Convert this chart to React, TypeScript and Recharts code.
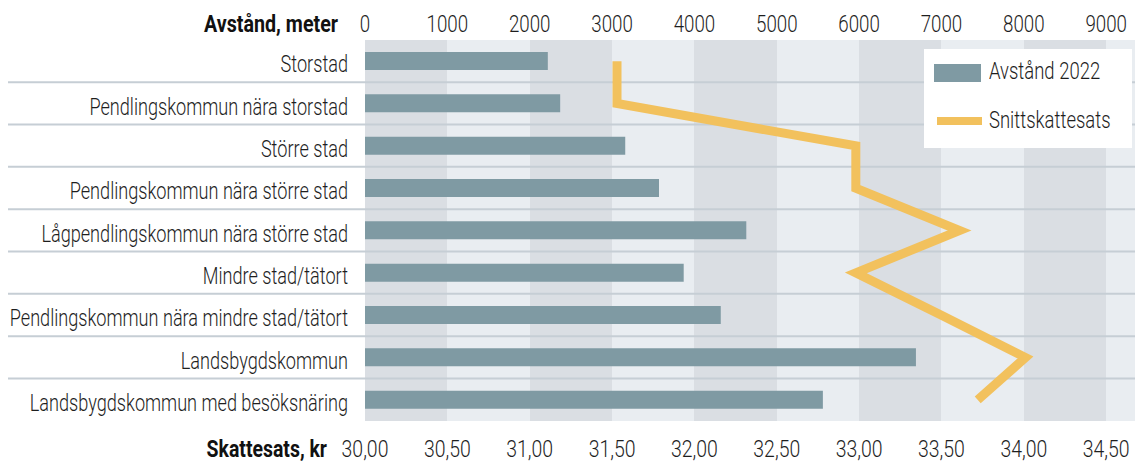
import React from "react";
import { ComposedChart, Bar, Line, XAxis, YAxis, CartesianGrid } from "recharts";

const categories = [
  "Storstad",
  "Pendlingskommun nära storstad",
  "Större stad",
  "Pendlingskommun nära större stad",
  "Lågpendlingskommun nära större stad",
  "Mindre stad/tätort",
  "Pendlingskommun nära mindre stad/tätort",
  "Landsbygdskommun",
  "Landsbygdskommun med besöksnäring",
];

// meter
const avstand2022 = [2220, 2370, 3160, 3570, 4630, 3870, 4320, 6690, 5560];
// kr
const snittskattesats = [31.53, 31.53, 32.98, 32.98, 33.61, 32.98, 33.5, 34.01, 33.72];

const distanceTicks = [0, 1000, 2000, 3000, 4000, 5000, 6000, 7000, 8000, 9000];
const taxTicks = [30, 30.5, 31, 31.5, 32, 32.5, 33, 33.5, 34, 34.5];

const seriesNames = ["Avstånd 2022", "Snittskattesats"];
const axisTitles = ["Avstånd, meter", "Skattesats, kr"];

const data = categories.map((name, i) => ({
  name,
  avstand: avstand2022[i],
  skatt: snittskattesats[i],
}));

const W = 1135;
const H = 463;
const TOP = 40;
const BOTTOM = 42;
const LEFT = 365;
const BAND = (H - TOP - BOTTOM) / categories.length;

const BAR = "#7f9aa3";
const LINE = "#f2c15d";
const TEXT = "#1e1e1e";
const FONT = "Roboto, sans-serif";

const TopTick = ({ x, payload, index }: any) => (
  <g>
    <text
      transform={`translate(${x},32) scale(0.78,1)`}
      textAnchor="middle"
      fontFamily={FONT}
      fontWeight={300}
      fontSize={24}
      fill={TEXT}
    >
      {payload.value}
    </text>
    {index === 0 && (
      <text
        transform={`translate(${x - 27},32) scale(0.82,1)`}
        textAnchor="end"
        fontFamily={FONT}
        fontWeight={700}
        fontSize={24}
        fill="#111"
      >
        {axisTitles[0]}
      </text>
    )}
  </g>
);

const BottomTick = ({ x, payload, index }: any) => (
  <g>
    <text
      transform={`translate(${x},457) scale(0.81,1)`}
      textAnchor="middle"
      fontFamily={FONT}
      fontWeight={300}
      fontSize={24}
      fill={TEXT}
    >
      {Number(payload.value).toFixed(2).replace(".", ",")}
    </text>
    {index === 0 && (
      <text
        transform={`translate(${x - 38},457) scale(0.81,1)`}
        textAnchor="end"
        fontFamily={FONT}
        fontWeight={700}
        fontSize={24}
        fill="#111"
      >
        {axisTitles[1]}
      </text>
    )}
  </g>
);

const CategoryTick = ({ y, payload }: any) => (
  <text
    transform={`translate(${LEFT - 17},${y + 11}) scale(0.755,1)`}
    textAnchor="end"
    fontFamily={FONT}
    fontWeight={300}
    fontSize={24}
    fill={TEXT}
  >
    {payload.value}
  </text>
);

// separator lines between categories, drawn under the bars
const Separator = (p: any) => {
  if (!p.index) return <g />;
  const yy = p.y + p.height / 2 - BAND / 2;
  return <line x1={8} x2={W} y1={yy} y2={yy} stroke="#c6ced5" strokeWidth={2} />;
};

const legendText: React.CSSProperties = {
  display: "inline-block",
  fontFamily: FONT,
  fontWeight: 300,
  fontSize: 24,
  color: TEXT,
  transform: "scaleX(0.77)",
  transformOrigin: "left center",
  whiteSpace: "nowrap",
};

export default function App() {
  return (
    <div style={{ position: "absolute", left: 0, top: 0, width: W, height: H, background: "#fff" }}>
      <ComposedChart
        width={W}
        height={H}
        data={data}
        layout="vertical"
        margin={{ top: 0, right: 0, bottom: 0, left: 0 }}
      >
        <CartesianGrid
          xAxisId="dist"
          horizontal={false}
          vertical={true}
          stroke="none"
          verticalFill={["#dadee3", "#e9edf1"]}
        />
        <XAxis
          xAxisId="dist"
          type="number"
          orientation="top"
          domain={[0, 9350]}
          ticks={distanceTicks}
          height={TOP}
          axisLine={false}
          tickLine={false}
          tick={<TopTick />}
          interval={0}
        />
        <XAxis
          xAxisId="tax"
          type="number"
          orientation="bottom"
          domain={[30, 34.675]}
          ticks={taxTicks}
          height={BOTTOM}
          axisLine={false}
          tickLine={false}
          tick={<BottomTick />}
          interval={0}
        />
        <YAxis
          type="category"
          dataKey="name"
          width={LEFT}
          axisLine={false}
          tickLine={false}
          tick={<CategoryTick />}
          interval={0}
        />
        <Bar
          xAxisId="dist"
          dataKey="avstand"
          name={seriesNames[0]}
          fill={BAR}
          barSize={18}
          background={(p: any) => <Separator {...p} />}
          isAnimationActive={false}
        />
        <Line
          xAxisId="tax"
          type="linear"
          dataKey="skatt"
          name={seriesNames[1]}
          stroke={LINE}
          strokeWidth={9}
          strokeLinejoin="miter"
          strokeLinecap="butt"
          dot={false}
          activeDot={false}
          isAnimationActive={false}
        />
      </ComposedChart>
      <div
        style={{
          position: "absolute",
          left: 924,
          top: 49,
          width: 208,
          height: 99,
          background: "#fff",
        }}
      >
        <div style={{ position: "absolute", left: 10, top: 15, width: 47, height: 18, background: BAR }} />
        <div style={{ position: "absolute", left: 65, top: 8, ...legendText }}>{seriesNames[0]}</div>
        <div style={{ position: "absolute", left: 13, top: 68, width: 45, height: 8, background: LINE }} />
        <div style={{ position: "absolute", left: 65, top: 57, ...legendText }}>{seriesNames[1]}</div>
      </div>
    </div>
  );
}
